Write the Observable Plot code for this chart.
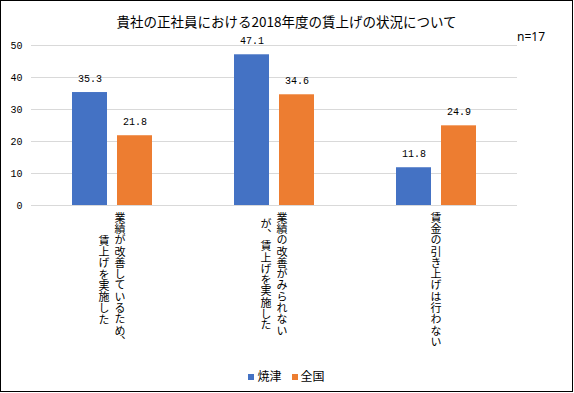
<!DOCTYPE html>
<html>
<head>
<meta charset="utf-8">
<script src="https://cdn.jsdelivr.net/npm/d3@7"></script>
<script src="https://cdn.jsdelivr.net/npm/@observablehq/plot@0.6"></script>
<style>
  html, body { margin: 0; padding: 0; background: #fff; }
  #frame { position: relative; width: 571px; height: 390px; border: 1px solid #000; background: #fff; overflow: hidden; }
  #title { position: absolute; left: 0; width: 571px; top: 10px; text-align: center; font: 13.5px "Noto Sans CJK JP", sans-serif; color: #000; line-height: 20px; }
  #n { position: absolute; right: 27px; top: 27px; font: 12px "Noto Sans", "DejaVu Sans", sans-serif; color: #000; }
  #chart { position: absolute; left: 0; top: 0; }
  .cat { position: absolute; top: 211px; transform: translateX(-50%); writing-mode: vertical-rl; text-align: center; line-height: 17px; font: 11px "Noto Sans CJK JP", sans-serif; letter-spacing: 0.3px; white-space: nowrap; color: #000; }
  #legend { position: absolute; top: 366px; left: 0; width: 571px; text-align: center; font: 12px "Noto Sans CJK JP", sans-serif; color: #000; }
  #legend span.sw { display: inline-block; width: 6px; height: 6px; margin-right: 3px; vertical-align: 1px; }
  #legend span.item { margin: 0 5px; }
</style>
</head>
<body>
<div id="frame">
  <div id="chart"></div>
  <div id="title"></div>
  <div id="n"></div>
  <div id="legend"></div>
</div>
<script>
const title = "貴社の正社員における2018年度の賃上げの状況について";
const sampleNote = "n=17";
const categories = ["業績が改善しているため、賃上げを実施した", "業績の改善がみられないが、賃上げを実施した", "賃金の引き上げは行わない"];
const categoryLines = [["業績が改善しているため、", "賃上げを実施した"], ["業績の改善がみられない", "が、賃上げを実施した"], ["賃金の引き上げは行わない"]];
const series = ["焼津", "全国"];
const colors = ["#4472C4", "#ED7D31"];
const yaizu = [35.3, 47.1, 11.8];
const zenkoku = [21.8, 34.6, 24.9];
const yTicks = [0, 10, 20, 30, 40, 50];

const data = [];
categories.forEach((c, i) => {
  data.push({cat: c, series: series[0], value: yaizu[i]});
  data.push({cat: c, series: series[1], value: zenkoku[i]});
});

const mono = "'Liberation Mono', 'DejaVu Sans Mono', monospace";

const plot = Plot.plot({
  width: 571,
  height: 210,
  marginLeft: 29,
  marginRight: 54,
  marginTop: 44,
  marginBottom: 6,
  style: {background: "transparent", color: "#000"},
  fx: {domain: categories, paddingInner: 0, paddingOuter: 0, axis: null, label: null},
  x: {domain: series, paddingInner: 0.2174, paddingOuter: 0.877, axis: null, label: null},
  y: {domain: [0, 50], label: null},
  color: {domain: series, range: colors},
  marks: [
    Plot.ruleY(yTicks, {stroke: "#d9d9d9", strokeWidth: 1}),
    Plot.barY(data, {fx: "cat", x: "series", y: "value", fill: "series"}),
    Plot.text(data, {fx: "cat", x: "series", y: "value", text: d => d.value.toFixed(1), dy: -14, fontFamily: mono, fontSize: 10, fill: "#000"}),
    Plot.axisY({ticks: yTicks, tickSize: 0, tickPadding: 9, fontFamily: mono, fontSize: 10, label: null})
  ]
});
document.getElementById("chart").appendChild(plot);

document.getElementById("title").textContent = title;
document.getElementById("n").textContent = sampleNote;

// category labels placed with the fx scale
const fxs = plot.scale("fx");
let fxApply = fxs.apply;
let bw = fxs.bandwidth;
if (!fxApply) {
  const s = d3.scaleBand().domain(fxs.domain).range(fxs.range).paddingInner(fxs.paddingInner || 0).paddingOuter(fxs.paddingOuter || 0);
  fxApply = s; bw = s.bandwidth();
}
const frame = document.getElementById("frame");
categories.forEach((c, i) => {
  const d = document.createElement("div");
  d.className = "cat";
  d.style.left = (fxApply(c) + bw / 2) + "px";
  categoryLines[i].forEach((line, j) => {
    if (j) d.appendChild(document.createElement("br"));
    d.appendChild(document.createTextNode(line));
  });
  frame.appendChild(d);
});

const legend = document.getElementById("legend");
series.forEach((s, i) => {
  const item = document.createElement("span");
  item.className = "item";
  const sw = document.createElement("span");
  sw.className = "sw";
  sw.style.background = colors[i];
  item.appendChild(sw);
  item.appendChild(document.createTextNode(s));
  legend.appendChild(item);
});
</script>
</body>
</html>
